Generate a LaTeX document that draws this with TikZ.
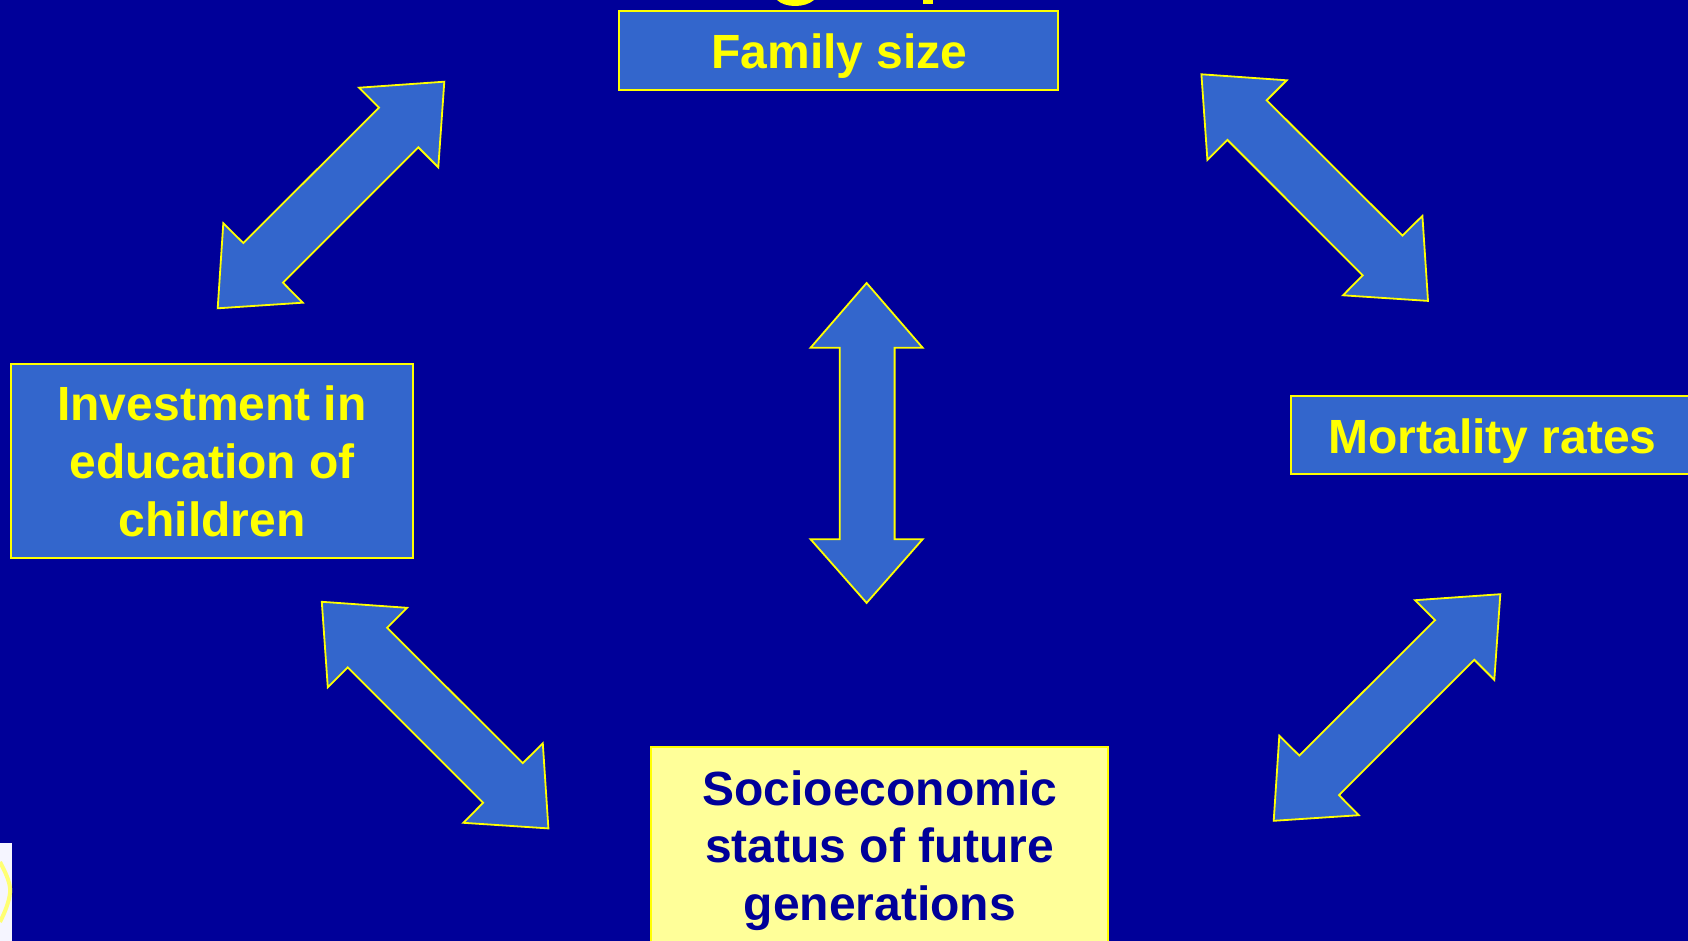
\documentclass[tikz,border=0pt]{standalone}
\usepackage{fontspec}
\setmainfont{Liberation Sans}
\definecolor{bgblue}{HTML}{000099}
\definecolor{boxblue}{HTML}{3366CC}
\definecolor{ylw}{HTML}{FFFF00}
\definecolor{paleylw}{HTML}{FFFF99}
\tikzset{
  boxshape/.style={draw=ylw,line width=2pt,fill=boxblue},
  arrowshape/.style={draw=ylw,line width=1.8pt,fill=boxblue,line join=miter},
  label/.style={font=\fontsize{48}{57.6}\selectfont\bfseries,align=center,text=ylw,inner sep=0pt},
  frag/.style={fill=ylw,draw=none}
}
\newcommand{\diagarrow}[1]{%
  \draw[arrowshape,#1] (444.3,81.7) -- (438.3,167.3) -- (418.3,147.3) -- (283,282.7) -- (302.7,302.7) -- (217.7,308.3) -- (223.3,223.3) -- (243.3,243) -- (379,107.7) -- (359,87.7) -- cycle;}
\begin{document}
\begin{tikzpicture}[x=1pt,y=-1pt]
\useasboundingbox (0,0) rectangle (1688,941);
\clip (0,0) rectangle (1688,941);
\fill[bgblue] (0,0) rectangle (1688,941);
% cut-off title fragments
\fill[frag] (777,0) .. controls (785,8) and (805,8) .. (814,0) -- cycle;
\fill[frag] (922.5,0) rectangle (933,4.5);
% thumbnail fragment
\fill[white!96!blue] (0,843) rectangle (12,941);
\draw[ylw!55!white,line width=4pt] (0,862) .. controls (7,875) and (11,885) .. (10,893) .. controls (9,902) and (5,912) .. (0,922);
% boxes
\draw[boxshape] (618.5,11) rectangle (1058,90.3);
\node[label] (family) at (839.5,56.5) {Family size};
\draw[boxshape] (10.8,363.9) rectangle (413.4,557.6);
\node[label] (invest) at (212,461.3) {Investment in\\education of\\children};
\draw[boxshape] (1290.7,395.5) rectangle (1695,473.7);
\node[label] (mort) at (1492.5,440.8) {Mortality rates};
\draw[boxshape,fill=paleylw] (651.3,747) rectangle (1107.7,950);
\node[label,text=bgblue] (socio) at (879.7,850.5) {Socioeconomic\\status of future\\generations};
% arrows
\diagarrow{}
\diagarrow{xshift=1056pt,yshift=-512.5pt}
\begin{scope}[xscale=-1,xshift=-1645.7pt,yshift=7.4pt]\diagarrow{}\end{scope}
\begin{scope}[xscale=-1,xshift=-766.1pt,yshift=-520.1pt]\diagarrow{}\end{scope}
\draw[arrowshape] (866.6,283) -- (922.6,347.7) -- (894.6,347.7) -- (894.6,539.3) -- (922.6,539.3) -- (866.6,602.9) -- (810.6,539.3) -- (839.7,539.3) -- (839.7,347.7) -- (810.6,347.7) -- cycle;
\end{tikzpicture}
\end{document}
